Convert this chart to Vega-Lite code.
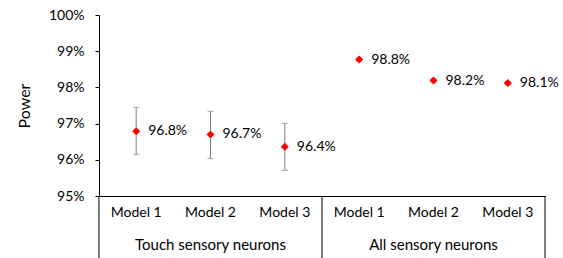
{
  "$schema": "https://vega.github.io/schema/vega-lite/v6.json",
  "width": 446,
  "height": 181,
  "autosize": {"type": "none"},
  "padding": {"left": 99, "top": 15, "right": 18, "bottom": 62},
  "background": "white",
  "config": {
    "view": {"stroke": null},
    "font": "Lato",
    "axis": {"domainColor": "#000000", "tickColor": "#000000", "labelColor": "#000000", "titleColor": "#000000", "grid": false, "labelFont": "Lato", "titleFont": "Lato", "labelOverlap": false, "labelFlush": false, "labelBound": false}
  },
  "datasets": {
    "pts": [
      {"key": "T1", "model": "Model 1", "group": "Touch sensory neurons", "value": 96.79, "lo": 96.15, "hi": 97.44, "label": "96.8%"},
      {"key": "T2", "model": "Model 2", "group": "Touch sensory neurons", "value": 96.70, "lo": 96.03, "hi": 97.34, "label": "96.7%"},
      {"key": "T3", "model": "Model 3", "group": "Touch sensory neurons", "value": 96.36, "lo": 95.71, "hi": 97.01, "label": "96.4%"},
      {"key": "A1", "model": "Model 1", "group": "All sensory neurons", "value": 98.77, "lo": 98.73, "hi": 98.81, "label": "98.8%"},
      {"key": "A2", "model": "Model 2", "group": "All sensory neurons", "value": 98.19, "lo": 98.15, "hi": 98.23, "label": "98.2%"},
      {"key": "A3", "model": "Model 3", "group": "All sensory neurons", "value": 98.12, "lo": 98.08, "hi": 98.16, "label": "98.1%"}
    ]
  },
  "layer": [
    {
      "data": {"name": "pts"},
      "mark": {"type": "rule", "color": "#7f7f7f", "strokeWidth": 1},
      "encoding": {
        "x": {"field": "key", "type": "nominal", "sort": ["T1", "T2", "T3", "A1", "A2", "A3"], "title": null,
              "scale": {"domain": ["T1", "T2", "T3", "A1", "A2", "A3"], "paddingInner": 0, "paddingOuter": 0},
              "axis": {"labelExpr": "slice(datum.value,1)=='1' ? 'Model 1' : (slice(datum.value,1)=='2' ? 'Model 2' : 'Model 3')", "labelAngle": 0, "ticks": false, "labelPadding": 9, "labelFontSize": 14, "labelBaseline": "top", "labelOverlap": false, "domainWidth": 1}},
        "y": {"field": "lo", "type": "quantitative", "title": "Power",
              "scale": {"domain": [95, 100], "nice": false, "zero": false},
              "axis": {"values": [95, 96, 97, 98, 99, 100], "tickCount": 10, "labelExpr": "datum.value + '%'", "labelOverlap": false, "tickSize": 4, "labelPadding": 11, "labelFontSize": 14, "titleFontSize": 16, "titleFontWeight": "normal", "titlePadding": 16, "domainWidth": 1}},
        "y2": {"field": "hi"}
      }
    },
    {
      "data": {"name": "pts"},
      "mark": {"type": "tick", "color": "#7f7f7f", "thickness": 1, "size": 6, "orient": "horizontal"},
      "encoding": {
        "x": {"field": "key", "type": "nominal", "title": null},
        "y": {"field": "lo", "type": "quantitative", "title": "Power"}
      }
    },
    {
      "data": {"name": "pts"},
      "mark": {"type": "tick", "color": "#7f7f7f", "thickness": 1, "size": 6, "orient": "horizontal"},
      "encoding": {
        "x": {"field": "key", "type": "nominal", "title": null},
        "y": {"field": "hi", "type": "quantitative", "title": "Power"}
      }
    },
    {
      "data": {"name": "pts"},
      "mark": {"type": "point", "shape": "diamond", "filled": true, "color": "#ff0000", "size": 64, "opacity": 1},
      "encoding": {
        "x": {"field": "key", "type": "nominal", "title": null},
        "y": {"field": "value", "type": "quantitative", "title": "Power"}
      }
    },
    {
      "data": {"name": "pts"},
      "mark": {"type": "text", "align": "left", "baseline": "middle", "dx": 12, "fontSize": 14, "color": "#000000"},
      "encoding": {
        "x": {"field": "key", "type": "nominal", "title": null},
        "y": {"field": "value", "type": "quantitative", "title": "Power"},
        "text": {"field": "label"}
      }
    },
    {
      "data": {"values": [{"key": "T1", "y": 95, "y2": 93.2}, {"key": "A1", "y": 95, "y2": 93.2}]},
      "mark": {"type": "rule", "color": "#000000", "strokeWidth": 1},
      "encoding": {
        "x": {"field": "key", "type": "nominal", "bandPosition": 0, "title": null},
        "y": {"field": "y", "type": "quantitative", "title": "Power"},
        "y2": {"field": "y2"}
      }
    },
    {
      "data": {"values": [{"key": "A3", "y": 95, "y2": 93.2}]},
      "mark": {"type": "rule", "color": "#000000", "strokeWidth": 1},
      "encoding": {
        "x": {"field": "key", "type": "nominal", "bandPosition": 1, "title": null},
        "y": {"field": "y", "type": "quantitative", "title": "Power"},
        "y2": {"field": "y2"}
      }
    },
    {
      "data": {"values": [{"key": "T2", "y": 93.65, "group": "Touch sensory neurons"}, {"key": "A2", "y": 93.65, "group": "All sensory neurons"}]},
      "mark": {"type": "text", "align": "center", "baseline": "middle", "fontSize": 15, "color": "#000000"},
      "encoding": {
        "x": {"field": "key", "type": "nominal", "title": null},
        "y": {"field": "y", "type": "quantitative", "title": "Power"},
        "text": {"field": "group"}
      }
    }
  ]
}
